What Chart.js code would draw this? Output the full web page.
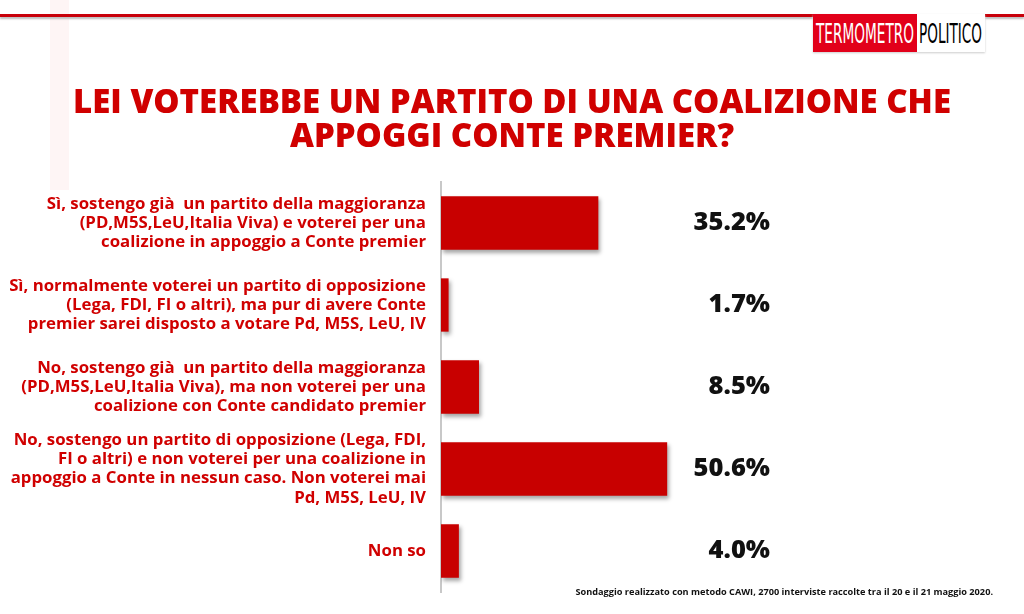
<!DOCTYPE html>
<html>
<head>
<meta charset="utf-8">
<script src="https://cdn.jsdelivr.net/npm/chart.js@4"></script>
<style>
  html, body { margin: 0; padding: 0; background: #fff; }
  #wrap { position: relative; width: 1024px; height: 614px; overflow: hidden; }
  .deco { position: absolute; background: #fef5f5; }
  .redline { position: absolute; top: 14px; height: 3px; background: #c8000a; box-shadow: 0 2px 2px #bbb; }
  #logo { position: absolute; left: 813px; top: 14px; box-shadow: 0 1px 2px #ccc; }
  canvas { position: absolute; left: 0; top: 0; }
</style>
</head>
<body>
<div id="wrap">
  <div class="deco" style="left:50px;top:0;width:19px;height:190px;"></div>
  <div class="redline" style="left:0;width:813px;"></div>
  <div class="redline" style="left:985px;width:39px;"></div>
  <svg id="logo" width="172" height="38" xmlns="http://www.w3.org/2000/svg">
    <rect x="0" y="0" width="104" height="38" fill="#e2001a"/>
    <rect x="104" y="0" width="68" height="38" fill="#fff"/>
    <text x="3" y="29" fill="#fff" font-family="Liberation Sans Narrow, DejaVu Sans Condensed, sans-serif" font-size="26" textLength="98" lengthAdjust="spacingAndGlyphs">TERMOMETRO</text>
    <text x="106" y="29" fill="#000" font-family="Liberation Sans Narrow, DejaVu Sans Condensed, sans-serif" font-size="26" textLength="63" lengthAdjust="spacingAndGlyphs">POLITICO</text>
  </svg>
  <canvas id="myChart" width="1024" height="614"></canvas>
</div>
<script>
let RISPOSTE = [
    ['Sì, sostengo già  un partito della maggioranza', '(PD,M5S,LeU,Italia Viva) e voterei per una', 'coalizione in appoggio a Conte premier'],
    ['Sì, normalmente voterei un partito di opposizione', '(Lega, FDI, FI o altri), ma pur di avere Conte', 'premier sarei disposto a votare Pd, M5S, LeU, IV'],
    ['No, sostengo già  un partito della maggioranza', '(PD,M5S,LeU,Italia Viva), ma non voterei per una', 'coalizione con Conte candidato premier'],
    ['No, sostengo un partito di opposizione (Lega, FDI,', 'FI o altri) e non voterei per una coalizione in', 'appoggio a Conte in nessun caso. Non voterei mai', 'Pd, M5S, LeU, IV'],
    ['Non so']
];
let PERCENTUALI = [35.2, 1.7, 8.5, 50.6, 4.0];
let TITOLO = ['LEI VOTEREBBE UN PARTITO DI UNA COALIZIONE CHE', 'APPOGGI CONTE PREMIER?'];
let NOTA = 'Sondaggio realizzato con metodo CAWI, 2700 interviste raccolte tra il 20 e il 21 maggio 2020.';

let FONT = '"Open Sans", "DejaVu Sans", sans-serif';
let ROSSO = '#d00000';

// ombra sotto le barre
let ombra = {
    id: 'ombra',
    beforeDatasetsDraw(chart) {
        let c = chart.ctx;
        c.save();
        c.shadowColor = 'rgba(0,0,0,0.35)';
        c.shadowBlur = 4;
        c.shadowOffsetX = 2;
        c.shadowOffsetY = 3;
    },
    afterDatasetsDraw(chart) {
        chart.ctx.restore();
    }
};

// titolo centrato sulla pagina, percentuali a destra e nota in basso
let testi = {
    id: 'testi',
    afterDraw(chart) {
        let c = chart.ctx;
        let meta = chart.getDatasetMeta(0);
        c.save();
        c.textBaseline = 'middle';
        c.textAlign = 'center';
        c.fillStyle = ROSSO;
        c.font = '800 33px ' + FONT;
        TITOLO.forEach((riga, i) => c.fillText(riga, chart.width / 2, 104 + i * 34));

        c.textAlign = 'right';
        c.fillStyle = '#111';
        c.font = '800 25.5px ' + FONT;
        meta.data.forEach((bar, i) => {
            c.fillText(PERCENTUALI[i].toFixed(1) + '%', 770, bar.y);
        });
        c.font = '700 9.2px ' + FONT;
        c.fillText(NOTA, 993, 592);
        c.restore();
    }
};

let ctx = document.getElementById('myChart').getContext('2d');
let myChart = new Chart(ctx, {
    type: 'bar',
    data: {
        labels: RISPOSTE,
        datasets: [{
            data: PERCENTUALI,
            backgroundColor: '#c80000',
            barPercentage: 0.65,
            categoryPercentage: 1.0
        }]
    },
    plugins: [ombra, testi],
    options: {
        indexAxis: 'y',
        responsive: false,
        animation: false,
        layout: { padding: { top: 182, bottom: 22, left: 0, right: 136 } },
        plugins: {
            legend: { display: false },
            tooltip: { enabled: false },
            title: { display: false }
        },
        scales: {
            x: {
                display: false,
                min: 0,
                max: 100
            },
            y: {
                afterFit(scale) {
                    scale.width = 441;
                    scale.paddingTop = 0;
                    scale.paddingBottom = 0;
                },
                grid: { display: false, drawTicks: false },
                border: { display: true, color: '#c8c8c8', width: 2 },
                ticks: {
                    color: ROSSO,
                    padding: 15,
                    font: { family: FONT, size: 16.8, weight: '700', lineHeight: 1.14 }
                }
            }
        }
    }
});
</script>
</body>
</html>
